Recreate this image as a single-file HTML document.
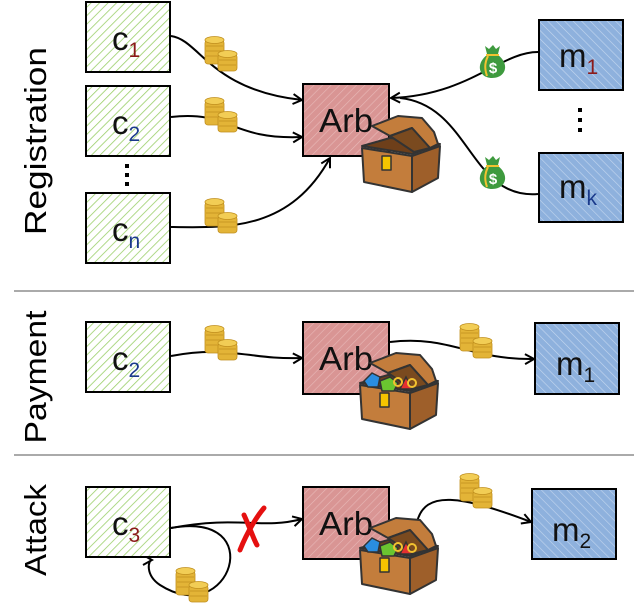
<!DOCTYPE html>
<html><head><meta charset="utf-8"><style>
html,body{margin:0;padding:0;background:#fff;}
svg{display:block;font-family:"Liberation Sans","DejaVu Sans",sans-serif;}
</style></head><body>
<svg width="634" height="603" viewBox="0 0 634 603" xmlns="http://www.w3.org/2000/svg">
<defs>
<pattern id="hg" width="6" height="6" patternUnits="userSpaceOnUse" patternTransform="rotate(45)">
<rect width="6" height="6" fill="#fff"/><line x1="0" y1="0" x2="0" y2="6" stroke="#9bcf6a" stroke-width="1.6"/></pattern>
<pattern id="hr" width="6" height="6" patternUnits="userSpaceOnUse" patternTransform="rotate(45)">
<rect width="6" height="6" fill="#d99594"/><line x1="0" y1="0" x2="0" y2="6" stroke="#e8b9b8" stroke-width="1.2"/></pattern>
<pattern id="hb" width="6" height="6" patternUnits="userSpaceOnUse" patternTransform="rotate(-45)">
<rect width="6" height="6" fill="#8eb1dd"/><line x1="0" y1="0" x2="0" y2="6" stroke="#c4d7ef" stroke-width="1.2"/></pattern>
<marker id="ar" markerWidth="12" markerHeight="12" refX="10" refY="6" orient="auto" markerUnits="userSpaceOnUse">
<path d="M1,1 L10,6 L1,11" fill="none" stroke="#000" stroke-width="2"/></marker>
<g id="coins">
<g fill="#e3b437" stroke="#c08f1e" stroke-width="0.8">
<rect x="0" y="4" width="19" height="24" rx="3"/><ellipse cx="9.5" cy="4" rx="9.5" ry="3.5" fill="#f2cd55"/>
<rect x="13" y="18" width="19" height="17" rx="3"/><ellipse cx="22.5" cy="18" rx="9.5" ry="3.5" fill="#f2cd55"/>
</g>
<g stroke="#c08f1e" stroke-width="0.7"><line x1="1" y1="10" x2="18" y2="10"/><line x1="1" y1="15" x2="18" y2="15"/><line x1="1" y1="20" x2="13" y2="20"/><line x1="14" y1="24" x2="31" y2="24"/><line x1="14" y1="29" x2="31" y2="29"/></g>
</g>
<g id="bag">
<path d="M6,10 L4,2 L8,5 L12,1 L15,5 L19,2 L17,10 Z" fill="#3e9a3e"/>
<path d="M6,11 C-6,20 -2,34 11,34 C25,34 29,20 17,11 Z" fill="#3e9a3e"/>
<path d="M5,11 L18,11 M7,12 C3,20 4,26 6,32" stroke="#f2c230" stroke-width="2" fill="none"/>
<text x="12" y="29" font-size="15" font-weight="bold" fill="#fff" text-anchor="middle">$</text>
</g>
<g id="chest" stroke="#333" stroke-width="2" stroke-linejoin="round">
<path d="M0,32 L28,24 L78,30 L50,40 Z" fill="#6e3f1a"/>
<path d="M10,12 L36,2 L60,4 L72,18 L76,30 L68,34 L50,14 L28,22 Z" fill="#c37d3c"/>
<path d="M28,22 L50,14 L68,34 L52,38 Z" fill="#7a4a1f"/>
<path d="M0,34 L50,42 L50,78 L2,68 Z" fill="#c37d3c"/>
<path d="M50,42 L78,32 L76,64 L50,78 Z" fill="#9e5f2a"/>
<rect x="20" y="42" width="9" height="14" fill="#f5c400" stroke-width="1.5"/>
</g>
<g id="gems">
<path d="M4,30 L12,22 L20,26 L18,36 L8,36 Z" fill="#2a8de0" stroke="#333" stroke-width="1.5"/>
<path d="M20,30 L30,26 L38,32 L34,40 L22,40 Z" fill="#6ac530" stroke="#333" stroke-width="1.5"/>
<path d="M40,38 L46,26 L52,38 Z" fill="#e53030" stroke="#333" stroke-width="1.5"/>
<circle cx="38" cy="31" r="4" fill="none" stroke="#f2c230" stroke-width="2"/>
<circle cx="52" cy="32" r="4" fill="none" stroke="#f2c230" stroke-width="2"/>
</g>
</defs>

<text transform="translate(46,141) rotate(-90)" font-size="31" text-anchor="middle" textLength="188" lengthAdjust="spacingAndGlyphs">Registration</text>
<text transform="translate(46,377) rotate(-90)" font-size="31" text-anchor="middle" textLength="133" lengthAdjust="spacingAndGlyphs">Payment</text>
<text transform="translate(46,530) rotate(-90)" font-size="31" text-anchor="middle" textLength="92" lengthAdjust="spacingAndGlyphs">Attack</text>
<line x1="14" y1="291" x2="634" y2="291" stroke="#555" stroke-width="1"/>
<line x1="14" y1="455" x2="634" y2="455" stroke="#555" stroke-width="1"/>

<g stroke="#000" stroke-width="2" fill="none">
<path d="M171,36 C200,40 210,90 302,100" marker-end="url(#ar)"/>
<path d="M171,117 C230,110 230,140 302,137" marker-end="url(#ar)"/>
<path d="M171,227 C230,228 290,230 330,158" marker-end="url(#ar)"/>
<path d="M538,52 C500,52 470,95 391,98" marker-end="url(#ar)"/>
<path d="M538,194 C470,200 470,105 400,98"/>
<path d="M171,356 C230,345 250,360 302,358" marker-end="url(#ar)"/>
<path d="M390,342 C450,335 470,360 534,359" marker-end="url(#ar)"/>
<path d="M171,528 C240,515 260,530 302,519" marker-end="url(#ar)"/>
<path d="M171,528 C270,510 230,630 160,585 C145,575 148,560 152,560" marker-end="url(#ar)"/>
<path d="M417,522 C425,490 460,495 531,522" marker-end="url(#ar)"/>
</g>
<path d="M240,550 C248,530 258,515 264,508 M244,515 C250,528 254,540 257,545" stroke="#e51010" stroke-width="5" fill="none" stroke-linecap="round"/>

<g stroke="#000" stroke-width="2">
<rect x="86" y="2" width="84" height="70" fill="url(#hg)"/>
<rect x="86" y="86" width="84" height="70" fill="url(#hg)"/>
<rect x="86" y="193" width="84" height="70" fill="url(#hg)"/>
<rect x="303" y="84" width="86" height="72" fill="url(#hr)"/>
<rect x="539" y="20" width="84" height="70" fill="url(#hb)"/>
<rect x="539" y="153" width="84" height="69" fill="url(#hb)"/>
<rect x="86" y="322" width="84" height="70" fill="url(#hg)"/>
<rect x="303" y="322" width="86" height="72" fill="url(#hr)"/>
<rect x="535" y="323" width="84" height="71" fill="url(#hb)"/>
<rect x="86" y="487" width="84" height="70" fill="url(#hg)"/>
<rect x="303" y="487" width="86" height="72" fill="url(#hr)"/>
<rect x="532" y="489" width="84" height="70" fill="url(#hb)"/>
</g>
<g fill="#000"><rect x="125" y="164" width="4" height="4"/><rect x="125" y="173" width="4" height="4"/><rect x="125" y="182" width="4" height="4"/>
<rect x="578" y="108" width="4" height="4"/><rect x="578" y="118" width="4" height="4"/><rect x="578" y="128" width="4" height="4"/></g>

<g font-size="33" fill="#111">
<text x="112" y="50">c<tspan font-size="21" dy="7" fill="#8b1a1a">1</tspan></text>
<text x="112" y="134">c<tspan font-size="21" dy="7" fill="#1a3a8b">2</tspan></text>
<text x="112" y="241">c<tspan font-size="21" dy="7" fill="#1a3a8b">n</tspan></text>
<text x="319" y="132" textLength="54" lengthAdjust="spacingAndGlyphs">Arb</text>
<text x="559" y="67">m<tspan font-size="21" dy="7" fill="#8b1a1a">1</tspan></text>
<text x="559" y="198">m<tspan font-size="21" dy="7" fill="#1a3a8b">k</tspan></text>
<text x="112" y="370">c<tspan font-size="21" dy="7" fill="#1a3a8b">2</tspan></text>
<text x="319" y="370" textLength="54" lengthAdjust="spacingAndGlyphs">Arb</text>
<text x="556" y="375">m<tspan font-size="21" dy="7">1</tspan></text>
<text x="112" y="535">c<tspan font-size="21" dy="7" fill="#8b1a1a">3</tspan></text>
<text x="319" y="535" textLength="54" lengthAdjust="spacingAndGlyphs">Arb</text>
<text x="552" y="541">m<tspan font-size="21" dy="7">2</tspan></text>
</g>

<use href="#coins" x="205" y="36"/>
<use href="#coins" x="205" y="97"/>
<use href="#coins" x="205" y="198"/>
<use href="#coins" x="205" y="325"/>
<use href="#coins" x="460" y="323"/>
<use href="#coins" x="176" y="567"/>
<use href="#coins" x="460" y="473"/>
<use href="#bag" x="481" y="44"/>
<use href="#bag" x="481" y="155"/>

<use href="#chest" x="362" y="114"/>
<use href="#chest" x="360" y="351"/>
<use href="#gems" x="360" y="351"/>
<use href="#chest" x="360" y="516"/>
<use href="#gems" x="360" y="516"/>
</svg>
</body></html>
